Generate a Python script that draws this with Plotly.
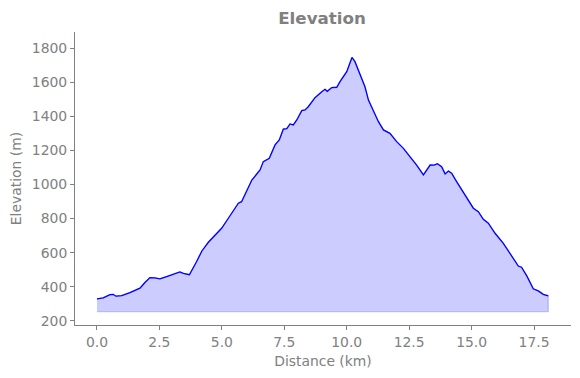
import plotly.graph_objects as go

# Distance along route (km)
dist = [0.0, 0.25, 0.52, 0.65, 0.76, 0.99, 1.32, 1.59, 1.72, 1.92, 2.12, 2.32, 2.52, 2.79,
        3.12, 3.32, 3.46, 3.70, 3.99, 4.2, 4.46, 4.66, 4.99, 5.26, 5.66, 5.79, 6.0, 6.2,
        6.53, 6.66, 6.9, 7.06, 7.13, 7.3, 7.46, 7.6, 7.73, 7.86, 8.0, 8.2, 8.33, 8.46,
        8.73, 9.0, 9.13, 9.22, 9.4, 9.6, 9.73, 10.0, 10.21, 10.33, 10.53, 10.73, 10.87,
        11.07, 11.27, 11.47, 11.73, 12.0, 12.27, 12.53, 12.8, 13.07, 13.34, 13.5, 13.63,
        13.8, 13.94, 14.07, 14.2, 14.4, 14.6, 14.8, 15.07, 15.27, 15.47, 15.67, 15.94,
        16.27, 16.61, 16.87, 17.0, 17.21, 17.47, 17.67, 17.87, 18.07]
# Elevation (m)
elev = [329, 335, 354, 356, 345, 348, 366, 382, 392, 425, 454, 452, 446, 460,
        477, 487, 479, 471, 548, 610, 661, 694, 743, 802, 890, 899, 968, 1026,
        1085, 1134, 1154, 1206, 1232, 1261, 1324, 1327, 1355, 1349, 1378, 1433, 1437, 1456,
        1509, 1544, 1558, 1546, 1568, 1570, 1603, 1661, 1745, 1720, 1642, 1573, 1495,
        1427, 1368, 1320, 1300, 1251, 1212, 1163, 1114, 1056, 1114, 1113, 1122,
        1104, 1062, 1079, 1066, 1017, 968, 919, 861, 841, 796, 773, 714,
        655, 577, 522, 515, 464, 388, 376, 356, 347]
baseline = 255
x_ticks = [0.0, 2.5, 5.0, 7.5, 10.0, 12.5, 15.0, 17.5]
y_ticks = [200, 400, 600, 800, 1000, 1200, 1400, 1600, 1800]

grey = "#808080"
font = "DejaVu Sans"

fig = go.Figure()
# filled area polygon (line down to baseline)
poly_x = dist + dist[::-1]
poly_y = elev + [baseline] * len(dist)
fig.add_trace(go.Scatter(x=poly_x, y=poly_y, fill="toself", mode="lines",
                         fillcolor="rgba(0,0,255,0.2)",
                         line=dict(color="rgba(0,0,255,0.2)", width=1.3),
                         hoverinfo="skip", showlegend=False))
fig.add_trace(go.Scatter(x=dist, y=elev, mode="lines",
                         line=dict(color="#0000ff", width=1.3), showlegend=False))

# page body has an 8px default margin, so the figure is 8px smaller and offset
fig.update_layout(
    width=572, height=370,
    margin=dict(l=67, r=9, t=24, b=53, autoexpand=False),
    paper_bgcolor="white", plot_bgcolor="white",
    font=dict(family=font, size=13.9, color=grey),
    title=dict(text="<b>Elevation</b>", x=0.549, xanchor="center", y=0.973, yanchor="middle",
               font=dict(family=font, size=16.7, color=grey)),
)
fig.update_xaxes(range=[-0.88, 18.98], tickvals=x_ticks,
                 ticktext=[f"{v:.1f}" for v in x_ticks], automargin=False,
                 tickfont=dict(size=13.9, color=grey),
                 showgrid=False, zeroline=False, showline=True, linecolor=grey, linewidth=1,
                 ticks="outside", ticklen=4, tickcolor=grey,
                 title=dict(text="Distance (km)", font=dict(size=13.9, color=grey), standoff=7))
fig.update_yaxes(range=[176, 1894], tickvals=y_ticks, automargin=False,
                 tickfont=dict(size=13.9, color=grey),
                 showgrid=False, zeroline=False, showline=True, linecolor=grey, linewidth=1,
                 ticks="outside", ticklen=4, tickcolor=grey,
                 title=dict(text="Elevation (m)", font=dict(size=13.9, color=grey), standoff=6))

fig.write_html("out.html")
